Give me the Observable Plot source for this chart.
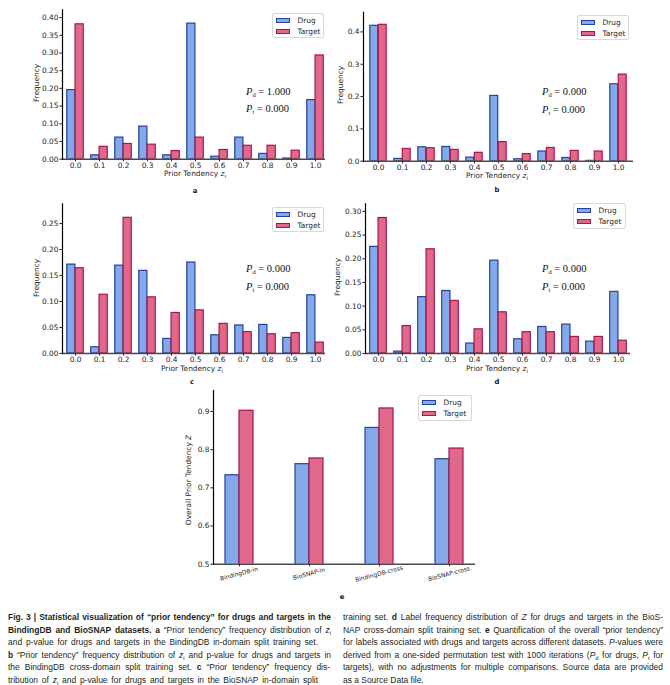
<!DOCTYPE html>
<html><head><meta charset="utf-8">
<script src="https://cdn.jsdelivr.net/npm/d3@7"></script>
<script src="https://cdn.jsdelivr.net/npm/@observablehq/plot@0.6"></script>
<style>
body{margin:0;background:#fff;}
#fig{position:relative;width:670px;height:685px;overflow:hidden;font-family:"DejaVu Sans",sans-serif;color:#262626;}
.pl{position:absolute;}
.ov{position:absolute;white-space:nowrap;font-size:7.4px;line-height:1;}
.lg{position:absolute;border:1px solid #d8d8d8;border-radius:2px;background:rgba(255,255,255,0.85);box-sizing:border-box;}
.lg .row{position:absolute;left:0;height:8px;font-size:7.4px;line-height:8px;}
.lg .pt{position:absolute;left:2.5px;top:1.3px;width:14px;height:4.8px;box-sizing:border-box;border:1.1px solid;}
.lg .tx{position:absolute;left:24.5px;top:0;}
.pv{position:absolute;font-family:"Liberation Serif",serif;font-size:10.5px;white-space:nowrap;line-height:1;color:#111;}
.pv sub{font-size:6.5px;vertical-align:-2px;font-style:normal;line-height:0;}
.let{position:absolute;font-weight:bold;font-size:6.8px;transform:translate(-50%,-50%);color:#111;}
.cap{position:absolute;height:10px;line-height:10px;color:#231f20;font-family:"Liberation Sans Narrow","Liberation Sans",sans-serif;}
.cap sub{font-size:0.7em;vertical-align:-1.5px;line-height:0;}
.cap.fit{text-align:justify;text-align-last:justify;white-space:normal;}
.cap.nat{white-space:nowrap;}
</style>
</head><body>
<div id="fig"></div>
<script>
// ---------- data ----------
const zBins = ["0.0","0.1","0.2","0.3","0.4","0.5","0.6","0.7","0.8","0.9","1.0"];
const seriesNames = ["Drug","Target"];
const drugA   = [0.195,0.011,0.061,0.092,0.011,0.383,0.007,0.061,0.015,0.002,0.167];
const targetA = [0.381,0.035,0.043,0.041,0.023,0.061,0.026,0.038,0.038,0.024,0.293];
const drugB   = [0.419,0.007,0.043,0.044,0.011,0.202,0.006,0.030,0.010,0.001,0.238];
const targetB = [0.422,0.038,0.040,0.035,0.026,0.059,0.022,0.041,0.032,0.030,0.268];
const drugC   = [0.171,0.012,0.169,0.159,0.028,0.175,0.035,0.054,0.055,0.030,0.112];
const targetC = [0.164,0.113,0.261,0.108,0.078,0.083,0.057,0.041,0.037,0.039,0.021];
const drugD   = [0.225,0.004,0.119,0.132,0.021,0.196,0.030,0.056,0.061,0.025,0.130];
const targetD = [0.286,0.058,0.220,0.111,0.051,0.087,0.045,0.045,0.035,0.035,0.027];
const datasets = ["BindingDB-in","BioSNAP-in","BindingDB-cross","BioSNAP-cross"];
const drugZ   = [0.733,0.762,0.857,0.775];
const targetZ = [0.902,0.777,0.908,0.803];
const pA = ["1.000","0.000"], pB = ["0.000","0.000"], pC = ["0.000","0.000"], pD = ["0.000","0.000"];
const ticksA = [0,0.05,0.10,0.15,0.20,0.25,0.30,0.35,0.40];
const ticksB = [0,0.1,0.2,0.3,0.4];
const ticksC = [0,0.05,0.10,0.15,0.20,0.25];
const ticksD = [0,0.05,0.10,0.15,0.20,0.25,0.30];
const ticksE = [0.5,0.6,0.7,0.8,0.9];

const BLUE = "#84a9e8", BLUE_E = "#2440a0", PINK = "#e0688b", PINK_E = "#a6164b";
const fig = document.getElementById("fig");

function panel(cfg) {
  const {left, top, w, h, x0, x1, y0, y1, cats, insetL = 0, insetR = 0, yDomain, yTicks, yFmt,
         drug, target, gap, rotated} = cfg;
  const n = cats.length;
  const step = (x1 - x0 - insetL - insetR) / n;
  const rows = cats.flatMap((k, i) => [{k, s: seriesNames[0], v: drug[i]}, {k, s: seriesNames[1], v: target[i]}]);
  const marks = [
    Plot.barY(rows.filter(d => d.s === "Drug"), {x: "k", y: "v", fill: BLUE, stroke: BLUE_E, strokeWidth: 1.2,
      insetLeft: gap * step, insetRight: 0.5 * step, clip: true}),
    Plot.barY(rows.filter(d => d.s === "Target"), {x: "k", y: "v", fill: PINK, stroke: PINK_E, strokeWidth: 1.2,
      insetLeft: 0.5 * step, insetRight: gap * step, clip: true}),
    Plot.ruleY([yDomain[0]], {stroke: "#4a4a4a", strokeWidth: 1.6}),
    Plot.frame({anchor: "left", stroke: "#000", strokeWidth: 1.2}),
    Plot.axisY({ticks: yTicks, tickFormat: yFmt, tickSize: 2.6, tickPadding: 1.5, label: null}),
  ];
  if (rotated) {
    marks.push(Plot.axisX({tickSize: 2.6, tickFormat: () => "", label: null}));
    marks.push(Plot.text(cats, {x: d => d, frameAnchor: "bottom", dy: 11.5, rotate: -15, fontSize: 6, textAnchor: "middle", fill: "#262626"}));
  } else {
    marks.push(Plot.axisX({tickSize: 2.6, tickPadding: 1, label: null}));
  }
  const chart = Plot.plot({
    width: w, height: h,
    marginLeft: x0 - left, marginRight: left + w - x1,
    marginTop: y0 - top, marginBottom: top + h - y1,
    x: {type: "band", domain: cats, padding: 0, insetLeft: insetL, insetRight: insetR, label: null},
    y: {domain: yDomain, label: null},
    style: {fontFamily: "DejaVu Sans", fontSize: "7.4px", color: "#262626", background: "transparent", overflow: "visible"},
    marks
  });
  chart.classList.add("pl");
  chart.style.left = left + "px";
  chart.style.top = top + "px";
  fig.appendChild(chart);
}

function legend(x, y, w, h) {
  const d = document.createElement("div");
  d.className = "lg";
  Object.assign(d.style, {left: x + "px", top: y + "px", width: w + "px", height: h + "px"});
  const cols = [[BLUE, BLUE_E], [PINK, PINK_E]];
  seriesNames.forEach((s, i) => {
    const r = document.createElement("div");
    r.className = "row";
    r.style.top = (2.6 + i * 11.6) + "px";
    r.innerHTML = `<span class="pt" style="background:${cols[i][0]};border-color:${cols[i][1]}"></span><span class="tx">${s}</span>`;
    d.appendChild(r);
  });
  fig.appendChild(d);
}

function pvals(x, yc1, yc2, vals) {
  [["d", vals[0], yc1], ["t", vals[1], yc2]].forEach(([sub, v, yc]) => {
    const d = document.createElement("div");
    d.className = "pv";
    d.style.left = x + "px";
    d.style.top = (yc - 5.5) + "px";
    d.innerHTML = `<i>P</i><sub>${sub}</sub> = ${v}`;
    fig.appendChild(d);
  });
}

function label(html, cx, cy, rot) {
  const d = document.createElement("div");
  d.className = "ov";
  d.style.left = cx + "px";
  d.style.top = cy + "px";
  d.style.transform = `translate(-50%,-50%)` + (rot ? ` rotate(${rot}deg)` : "");
  d.innerHTML = html;
  fig.appendChild(d);
}
function letter(t, cx, cy) {
  const d = document.createElement("div");
  d.className = "let";
  d.style.left = cx + "px"; d.style.top = cy + "px";
  d.textContent = t;
  fig.appendChild(d);
}

const f2 = d3.format(".2f"), f1 = d3.format(".1f");
const zLabel = `Prior Tendency <i>z</i><sub style="font-size:5.5px;vertical-align:-1.5px;line-height:0">i</sub>`;

// a
panel({left: 0, top: 0, w: 335, h: 190, x0: 62, x1: 325, y0: 9.3, y1: 158.7, cats: zBins, insetR: -3,
  yDomain: [0, 0.422], yTicks: ticksA, yFmt: f2, drug: drugA, target: targetA, gap: 0.155});
// b
panel({left: 335, top: 0, w: 335, h: 190, x0: 363, x1: 633, y0: 11.7, y1: 160.7, cats: zBins,
  yDomain: [0, 0.461], yTicks: ticksB, yFmt: f1, drug: drugB, target: targetB, gap: 0.155});
// c
panel({left: 0, top: 195, w: 335, h: 185, x0: 62, x1: 325, y0: 203.3, y1: 353, cats: zBins, insetR: -3,
  yDomain: [0, 0.288], yTicks: ticksC, yFmt: f2, drug: drugC, target: targetC, gap: 0.155});
// d
panel({left: 335, top: 195, w: 335, h: 185, x0: 365, x1: 630, y0: 203.3, y1: 353, cats: zBins,
  yDomain: [0, 0.316], yTicks: ticksD, yFmt: f2, drug: drugD, target: targetD, gap: 0.155});
// e
panel({left: 170, top: 385, w: 330, h: 210, x0: 213, x1: 475, y0: 390, y1: 563.7, cats: datasets, insetL: -9, insetR: -9,
  yDomain: [0.5, 0.955], yTicks: ticksE, yFmt: f1, drug: drugZ, target: targetZ, gap: 0.3, rotated: true});

legend(272, 13, 52, 25);
legend(577, 15, 52, 25);
legend(272, 207, 52, 25);
legend(573, 203, 53, 26);
legend(418, 395, 54, 26);

pvals(246, 92.7, 109.5, pA);
pvals(542, 92, 110, pB);
pvals(246, 269, 287, pC);
pvals(542, 269, 287, pD);

label(zLabel, 195, 174);
label(zLabel, 497, 176);
label(zLabel, 192, 369);
label(zLabel, 497, 369);
label("Frequency", 37, 83, -90);
label("Frequency", 341, 85, -90);
label("Frequency", 37, 278, -90);
label("Frequency", 338, 277, -90);
label("Overall Prior Tendency <i>Z</i>", 189, 480, -90);

letter("a", 195, 191);
letter("b", 497, 190);
letter("c", 192, 382);
letter("d", 497, 382);
letter("e", 342, 597);

// ---------- caption ----------
const capLeft = [
  {w: 323, fit: true, html: "<b>Fig. 3 | Statistical visualization of “prior tendency” for drugs and targets in the</b>"},
  {w: 323, fit: true, html: "<b>BindingDB and BioSNAP datasets. a</b> “Prior tendency” frequency distribution of <i>z</i><sub>i</sub>"},
  {w: 310, fit: true, html: "and p-value for drugs and targets in the BindingDB in-domain split training set."},
  {w: 323, fit: true, html: "<b>b</b> “Prior tendency” frequency distribution of <i>z</i><sub>i</sub> and p-value for drugs and targets in"},
  {w: 322, fit: true, html: "the BindingDB cross-domain split training set. <b>c</b> “Prior tendency” frequency dis-"},
  {w: 310, fit: true, html: "tribution of <i>z</i><sub>i</sub> and p-value for drugs and targets in the BioSNAP in-domain split"},
];
const capRight = [
  {w: 320, fit: true, html: "training set. <b>d</b> Label frequency distribution of <i>Z</i> for drugs and targets in the BioS-"},
  {w: 320, fit: true, html: "NAP cross-domain split training set. <b>e</b> Quantification of the overall “prior tendency”"},
  {w: 320, fit: true, html: "for labels associated with drugs and targets across different datasets. <i>P</i>-values were"},
  {w: 320, fit: true, html: "derived from a one-sided permutation test with 1000 iterations (<i>P</i><sub>d</sub> for drugs, <i>P</i><sub>t</sub> for"},
  {w: 320, fit: true, html: "targets), with no adjustments for multiple comparisons. Source data are provided"},
  {w: 80, fit: false, html: "as a Source Data file."},
];
const CAP_BASE = 9.3, CAP_TOP = 612, CAP_STEP = 12.5;
// measure natural widths at base size to find a common size that fits every line
const probe = document.createElement("div");
probe.className = "cap nat";
probe.style.fontSize = CAP_BASE + "px";
probe.style.visibility = "hidden";
fig.appendChild(probe);
let ratio = 1;
[...capLeft, ...capRight].forEach(ln => {
  if (!ln.fit) return;
  probe.innerHTML = ln.html;
  const nw = probe.getBoundingClientRect().width;
  ratio = Math.min(ratio, ln.w / nw);
});
fig.removeChild(probe);
const capSize = CAP_BASE * ratio * 0.985;
function capLines(lines, x0) {
  lines.forEach((ln, i) => {
    const d = document.createElement("div");
    d.className = "cap " + (ln.fit ? "fit" : "nat");
    d.style.left = x0 + "px";
    d.style.top = (CAP_TOP + i * CAP_STEP) + "px";
    d.style.width = ln.fit ? ln.w + "px" : "auto";
    d.style.fontSize = capSize + "px";
    d.innerHTML = ln.html;
    fig.appendChild(d);
  });
}
capLines(capLeft, 8);
capLines(capRight, 343);
</script>
</body></html>
